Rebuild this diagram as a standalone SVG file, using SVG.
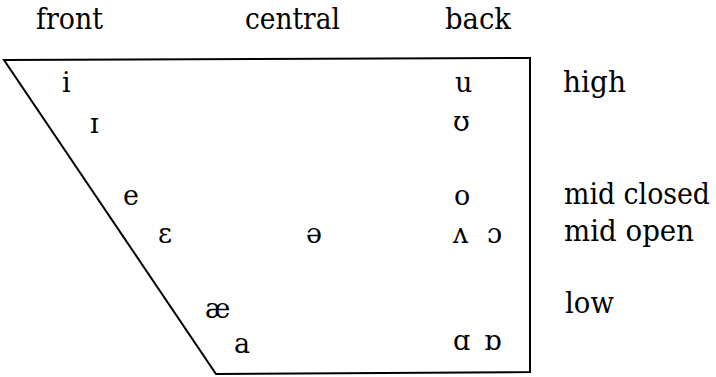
<svg xmlns="http://www.w3.org/2000/svg" width="716" height="377" viewBox="0 0 716 377">
<rect width="716" height="377" fill="#fff"/>
<g id="connectors">
<path id="chart-outline" d="M4,60 L530,58 L530,372 L216,374 Z" fill="none" stroke="#000" stroke-width="2"/>
</g>
<g id="labels">
<text id="front" x="36" y="29" font-family="DejaVu Serif" font-size="30" textLength="67" lengthAdjust="spacingAndGlyphs">front</text>
<text id="central" x="245" y="29" font-family="DejaVu Serif" font-size="30" textLength="95" lengthAdjust="spacingAndGlyphs">central</text>
<text id="back" x="445" y="29" font-family="DejaVu Serif" font-size="30" textLength="66" lengthAdjust="spacingAndGlyphs">back</text>
<text id="high" x="563" y="92" font-family="DejaVu Serif" font-size="30" textLength="63" lengthAdjust="spacingAndGlyphs">high</text>
<text id="midclosed" x="564" y="204" font-family="DejaVu Serif" font-size="30" textLength="146" lengthAdjust="spacingAndGlyphs">mid closed</text>
<text id="midopen" x="564" y="241" font-family="DejaVu Serif" font-size="30" textLength="130" lengthAdjust="spacingAndGlyphs">mid open</text>
<text id="low" x="565" y="313" font-family="DejaVu Serif" font-size="30" textLength="49" lengthAdjust="spacingAndGlyphs">low</text>
</g>
<g id="vowels">
<text x="62" y="92" font-family="DejaVu Serif" font-size="27">i</text>
<text x="455" y="92" font-family="DejaVu Serif" font-size="27">u</text>
<text x="90" y="133" font-family="DejaVu Serif" font-size="27">ɪ</text>
<text x="453" y="131" font-family="DejaVu Serif" font-size="27">ʊ</text>
<text x="123" y="205" font-family="DejaVu Serif" font-size="27">e</text>
<text x="454" y="205" font-family="DejaVu Serif" font-size="27">o</text>
<text x="158" y="243" font-family="DejaVu Serif" font-size="27">ɛ</text>
<text x="306" y="243" font-family="DejaVu Serif" font-size="27">ə</text>
<text x="453" y="243" font-family="DejaVu Serif" font-size="27">ʌ</text>
<text x="487" y="243" font-family="DejaVu Serif" font-size="27">ɔ</text>
<text x="205" y="318" font-family="DejaVu Serif" font-size="27">æ</text>
<text x="234" y="353" font-family="DejaVu Serif" font-size="27">a</text>
<text x="453" y="350" font-family="DejaVu Serif" font-size="27">ɑ</text>
<text x="484" y="350" font-family="DejaVu Serif" font-size="27">ɒ</text>
</g>
</svg>
